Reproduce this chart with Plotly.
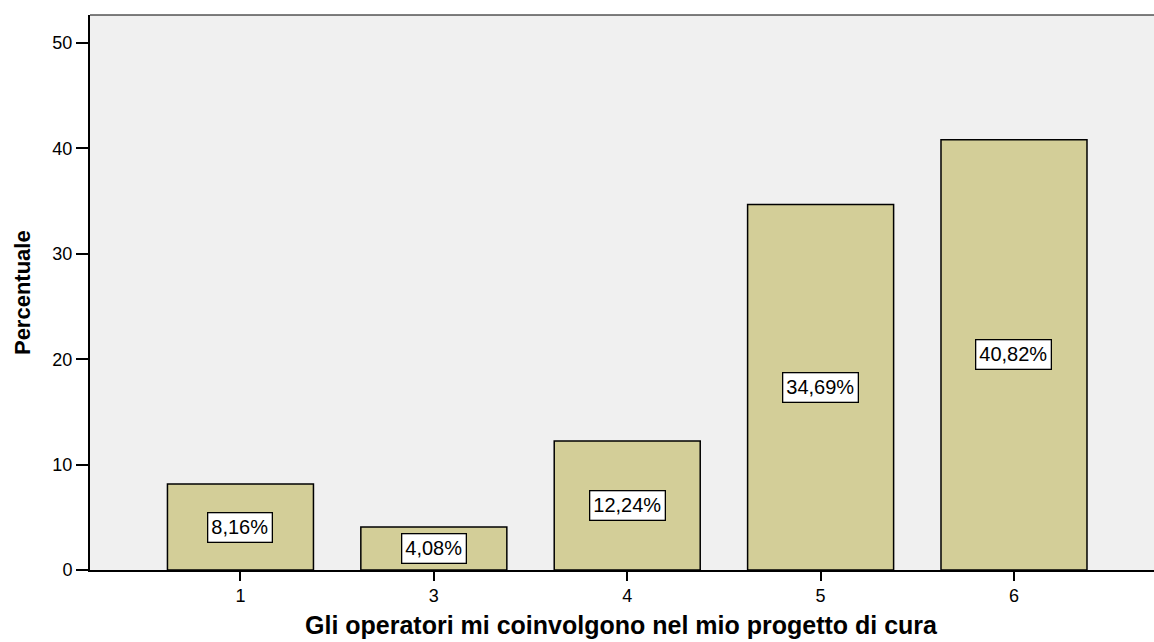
import plotly.graph_objects as go

categories = ["1", "3", "4", "5", "6"]
values = [8.16, 4.08, 12.24, 34.69, 40.82]
labels = ["8,16%", "4,08%", "12,24%", "34,69%", "40,82%"]
y_ticks = [0, 10, 20, 30, 40, 50]

FONT = "Liberation Sans, Arial, sans-serif"
x_pos = list(range(len(categories)))

fig = go.Figure()
fig.add_trace(go.Bar(
    x=x_pos, y=values, width=0.755,
    marker=dict(color="#D3CE98", line=dict(color="black", width=1.5)),
    hoverinfo="skip",
))

for xp, v, lab in zip(x_pos, values, labels):
    fig.add_annotation(
        x=xp, y=v / 2, text=lab, showarrow=False,
        font=dict(family=FONT, size=20, color="black"),
        bgcolor="white", bordercolor="black", borderwidth=1.3, borderpad=3,
    )

fig.add_annotation(
    xref="paper", yref="paper", x=-0.0634, y=0.5, text="<b>Percentuale</b>",
    textangle=-90, showarrow=False, xanchor="center", yanchor="middle",
    font=dict(family=FONT, size=22, color="black"),
)

fig.add_annotation(
    xref="paper", yref="paper", x=0.4995, y=-0.099,
    text="<b>Gli operatori mi coinvolgono nel mio progetto di cura</b>",
    showarrow=False, xanchor="center", yanchor="middle",
    font=dict(family=FONT, size=25, color="black"),
)

fig.add_shape(type="line", xref="paper", yref="paper", x0=0, x1=1, y0=1, y1=1,
              line=dict(color="black", width=1.2))

fig.update_layout(
    width=1154, height=642,
    margin=dict(l=90, r=0, t=15, b=72),
    paper_bgcolor="white", plot_bgcolor="#F0F0F0",
    showlegend=False,
    font=dict(family=FONT, size=18, color="black"),
    xaxis=dict(
        range=[-0.778, 4.724], tickmode="array", tickvals=x_pos, ticktext=categories,
        showgrid=False, zeroline=False, showline=True, linecolor="black", linewidth=1.5,
        ticks="outside", ticklen=9, tickwidth=2, tickcolor="black",
        tickfont=dict(size=18),
    ),
    yaxis=dict(
        range=[0, 52.66], tickmode="array", tickvals=y_ticks,
        showgrid=False, zeroline=False, showline=True, linecolor="black", linewidth=2,
        ticks="outside", ticklen=12, tickwidth=2, tickcolor="black",
        tickfont=dict(size=18),
    ),
)

fig.write_html("out.html", config={"displayModeBar": False},
               post_script="document.body.style.margin='0';document.body.style.overflow='hidden';")
